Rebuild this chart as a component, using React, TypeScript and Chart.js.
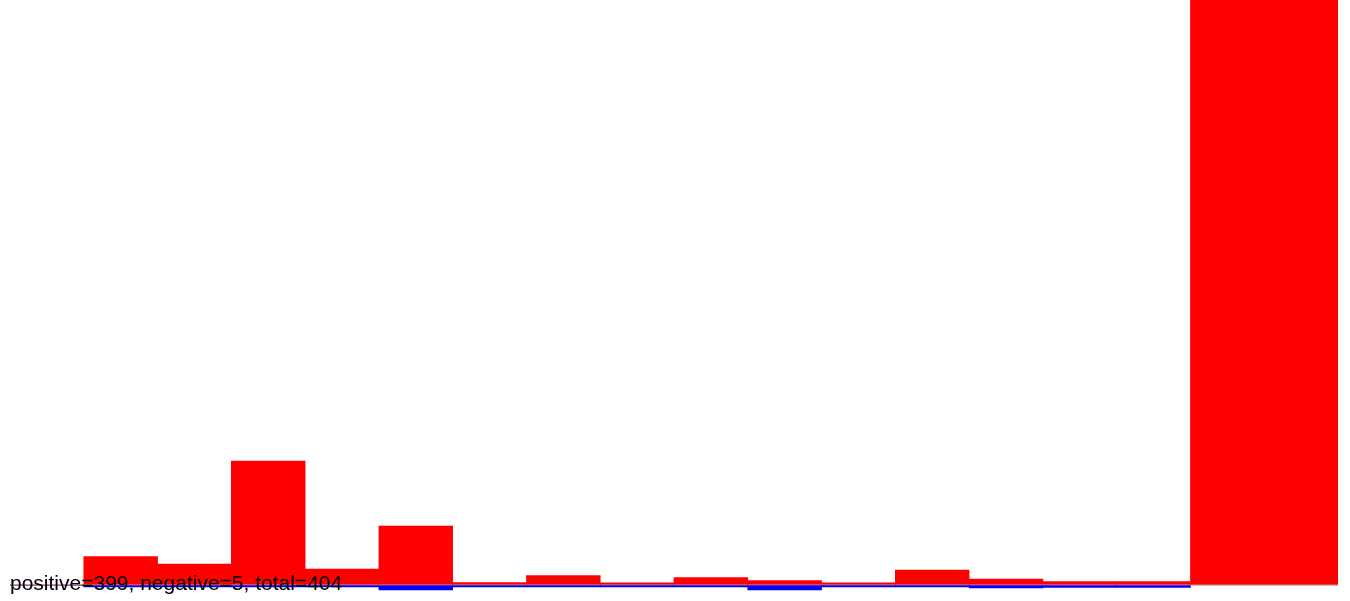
import React, { useEffect, useRef } from "react";
import { Chart, registerables } from "chart.js";

Chart.register(...registerables);

const categories = ["0", "1", "2", "3", "4", "5", "6", "7", "8", "9", "10", "11", "12", "13", "14", "15", "16", "17"];
const positiveValues = [0, 14.2, 10.5, 62, 8, 29.5, 1.2, 4.7, 1.1, 3.7, 2.2, 1.1, 7.5, 3, 1.7, 1.7, 400, 400];
const negativeValues = [0, -0.9, -0.9, -0.9, -0.9, -2.4, -0.9, -0.9, -0.9, -0.9, -2.4, -0.9, -0.9, -1.5, -1.2, -1.2, 0, 0];
const summaryText = "positive=399, negative=5, total=404";
const yMin = -8;
const yMax = 292.5;

export default function App() {
  const canvasRef = useRef<HTMLCanvasElement | null>(null);

  useEffect(() => {
    if (!canvasRef.current) return;
    const chart = new Chart(canvasRef.current, {
      type: "bar",
      data: {
        labels: categories,
        datasets: [
          {
            label: "positive",
            data: positiveValues,
            backgroundColor: "#ff0000",
            borderWidth: 0,
            barPercentage: 1,
            categoryPercentage: 1,
          },
          {
            label: "negative",
            data: negativeValues,
            backgroundColor: "#0000ff",
            borderWidth: 0,
            barPercentage: 1,
            categoryPercentage: 1,
          },
        ],
      },
      options: {
        animation: false,
        responsive: true,
        maintainAspectRatio: false,
        layout: { padding: { left: 10, right: 12, top: 0, bottom: 0 } },
        plugins: {
          legend: { display: false },
          tooltip: { enabled: false },
          title: { display: false },
        },
        scales: {
          x: {
            display: false,
            stacked: true,
          },
          y: {
            display: true,
            stacked: true,
            min: yMin,
            max: yMax,
            afterBuildTicks: (scale: any) => {
              scale.ticks = [{ value: 0 }];
            },
            ticks: { display: false },
            border: { display: false },
            grid: {
              drawTicks: false,
              color: "#bcbcbc",
              lineWidth: 1,
            },
          },
        },
      },
    });
    return () => chart.destroy();
  }, []);

  return (
    <div style={{ position: "fixed", left: 0, top: 0, width: 1350, height: 601 }}>
      <canvas ref={canvasRef} />
      <div
        style={{
          position: "absolute",
          left: 10,
          top: 572,
          fontFamily: "'Liberation Sans', Arial, sans-serif",
          fontSize: 21,
          lineHeight: "21px",
          color: "#000",
          whiteSpace: "nowrap",
          pointerEvents: "none",
        }}
      >
        {summaryText}
      </div>
    </div>
  );
}
